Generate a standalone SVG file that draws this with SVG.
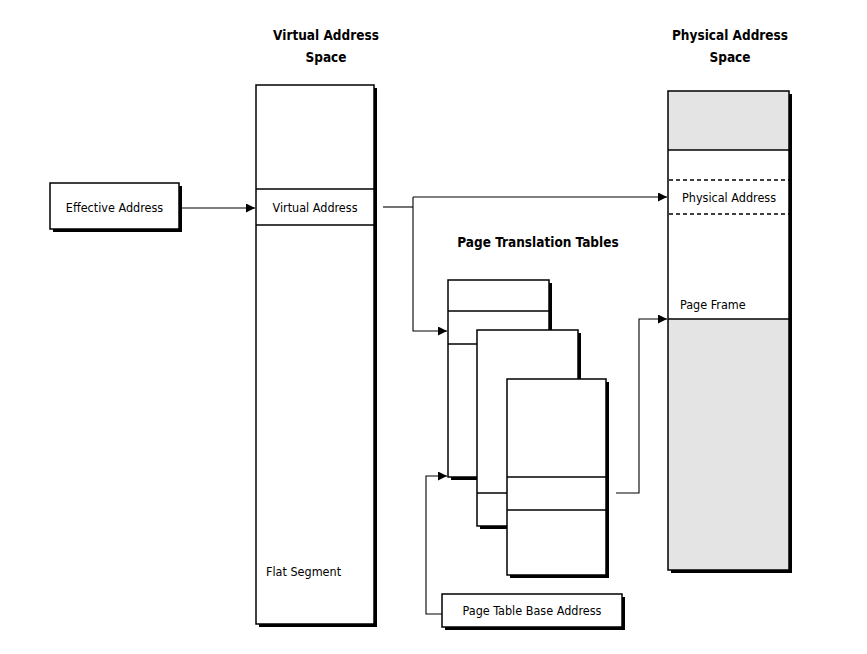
<svg xmlns="http://www.w3.org/2000/svg" width="867" height="654" viewBox="0 0 867 654">
<defs>
<style>
.sh{fill:#000}
.bx{fill:#fff;stroke:#000;stroke-width:1.5}
.gr{fill:#e4e4e4;stroke:none}
.ln{stroke:#000;stroke-width:1.3;fill:none}
.dash{stroke:#000;stroke-width:1.3;stroke-dasharray:4,3;fill:none}
.cn{stroke:#000;stroke-width:1.1;fill:none}
.t{font-family:"DejaVu Sans Condensed","Liberation Sans",sans-serif;font-size:12.5px;fill:#000}
.h{font-family:"DejaVu Sans Condensed","Liberation Sans",sans-serif;font-size:13.5px;font-weight:bold;fill:#000}
</style>
<marker id="ar" viewBox="0 0 10 10" refX="10" refY="5" markerWidth="9" markerHeight="9" markerUnits="userSpaceOnUse" orient="auto">
<path d="M0,0 L10,5 L0,10 z" fill="#000"/>
</marker>
</defs>
<rect width="867" height="654" fill="#fff"/>

<g id="titles">
<text class="h" x="326" y="40" text-anchor="middle">Virtual Address</text>
<text class="h" x="326" y="62" text-anchor="middle">Space</text>
<text class="h" x="730" y="40" text-anchor="middle">Physical Address</text>
<text class="h" x="730" y="62" text-anchor="middle">Space</text>
<text class="h" x="538" y="247" text-anchor="middle">Page Translation Tables</text>
</g>

<g id="effective-address">
<rect class="sh" x="53" y="186" width="129" height="46"/>
<rect class="bx" x="50" y="183" width="129" height="46"/>
<text class="t" x="114.5" y="212" text-anchor="middle">Effective Address</text>
</g>

<g id="virtual-address-space">
<rect class="sh" x="259" y="88" width="118" height="539"/>
<rect class="bx" x="256" y="85" width="118" height="539"/>
<line class="ln" x1="256" y1="189" x2="374" y2="189"/>
<line class="ln" x1="256" y1="225" x2="374" y2="225"/>
<text class="t" x="315" y="212" text-anchor="middle">Virtual Address</text>
<text class="t" x="266" y="576">Flat Segment</text>
</g>

<g id="physical-address-space">
<rect class="sh" x="671" y="94" width="121" height="479"/>
<rect x="668" y="91" width="121" height="479" fill="#fff"/>
<rect class="gr" x="668" y="91" width="121" height="59"/>
<rect class="gr" x="668" y="319" width="121" height="251"/>
<rect x="668" y="91" width="121" height="479" fill="none" stroke="#000" stroke-width="1.5"/>
<line class="ln" x1="668" y1="150" x2="789" y2="150"/>
<line class="ln" x1="668" y1="319" x2="789" y2="319"/>
<line class="dash" x1="669" y1="180" x2="789" y2="180"/>
<line class="dash" x1="669" y1="214" x2="789" y2="214"/>
<text class="t" x="729" y="202" text-anchor="middle">Physical Address</text>
<text class="t" x="680" y="309">Page Frame</text>
</g>

<g id="page-table-1">
<rect class="sh" x="451" y="283" width="101" height="197"/>
<rect class="bx" x="448" y="280" width="101" height="197"/>
<line class="ln" x1="448" y1="311" x2="549" y2="311"/>
<line class="ln" x1="448" y1="344" x2="549" y2="344"/>
</g>

<g id="page-table-2">
<rect class="sh" x="480" y="333" width="101" height="196"/>
<rect class="bx" x="477" y="330" width="101" height="196"/>
<line class="ln" x1="477" y1="493" x2="578" y2="493"/>
</g>

<g id="page-table-3">
<rect class="sh" x="510" y="382" width="99" height="196"/>
<rect class="bx" x="507" y="379" width="99" height="196"/>
<line class="ln" x1="507" y1="477" x2="606" y2="477"/>
<line class="ln" x1="507" y1="510" x2="606" y2="510"/>
</g>

<g id="page-table-base-address">
<rect class="sh" x="445" y="597" width="180" height="33"/>
<rect class="bx" x="442" y="594" width="180" height="33"/>
<text class="t" x="532" y="615" text-anchor="middle">Page Table Base Address</text>
</g>

<g id="connectors">
<path class="cn" d="M179,208 H255" marker-end="url(#ar)"/>
<path class="cn" d="M383,207 H413"/>
<path class="cn" d="M413,197 V331 H447" marker-end="url(#ar)"/>
<path class="cn" d="M413,197 H667" marker-end="url(#ar)"/>
<path class="cn" d="M442,614 H426 V476 H447" marker-end="url(#ar)"/>
<path class="cn" d="M616,493 H639 V319 H667" marker-end="url(#ar)"/>
</g>
</svg>
